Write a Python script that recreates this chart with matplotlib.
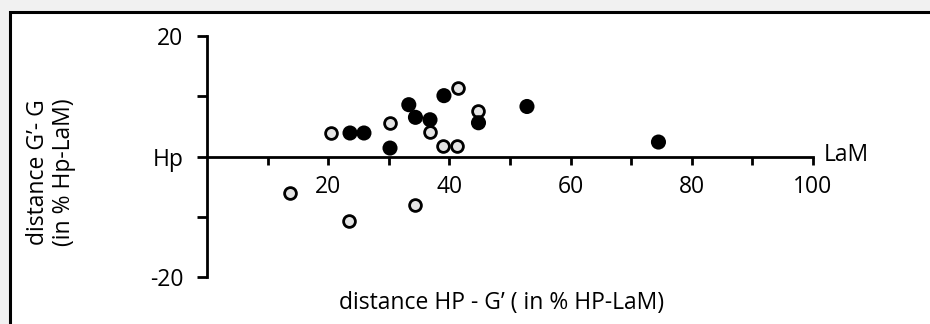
import numpy as np
import matplotlib
matplotlib.use("Agg")
import matplotlib.pyplot as plt
from matplotlib.patches import Rectangle

plt.rcParams['font.family'] = ['Open Sans', 'DejaVu Sans']

# open circles (grey fill)
open_x = [20.5, 30.2, 36.8, 39.0, 41.3, 41.5, 44.8, 13.7, 23.5, 34.4]
open_y = [3.9, 5.6, 4.0, 1.7, 1.7, 11.3, 7.5, -6.1, -10.7, -8.1]
# filled circles (black)
fill_x = [23.6, 25.9, 30.2, 33.3, 34.4, 36.8, 39.1, 44.8, 52.8, 74.5]
fill_y = [3.9, 3.9, 1.4, 8.6, 6.5, 6.1, 10.1, 5.6, 8.3, 2.4]

xticks = [10, 20, 30, 40, 50, 60, 70, 80, 90, 100]
xtick_labels = ['', '20', '', '40', '', '60', '', '80', '', '100']
yticks = [-20, -10, 0, 10, 20]
ytick_labels = ['-20', '', 'Hp', '', '20']

FS = 16.5
W, H = 930, 324
fig = plt.figure(figsize=(W / 100, H / 100), dpi=100)
fig.patch.set_facecolor('#f1f1f1')

# white framed panel (cropped on right and bottom)
fig.patches.append(Rectangle((10 / W, -0.1), 1.1, 1 - 12.5 / H + 0.1,
                             transform=fig.transFigure, facecolor='white',
                             edgecolor='black', linewidth=2.2, zorder=-5))

ax = fig.add_axes([207 / W, 1 - 277 / H, (813 - 207) / W, (277 - 36) / H])
ax.set_facecolor('none')
ax.set_xlim(0, 100)
ax.set_ylim(-20, 20)

for s in ['top', 'right']:
    ax.spines[s].set_visible(False)
ax.spines['bottom'].set_position(('data', 0))
ax.spines['bottom'].set_bounds(0, 100)
ax.spines['left'].set_linewidth(2)
ax.spines['bottom'].set_linewidth(2)

ax.set_xticks(xticks)
ax.set_xticklabels(xtick_labels)
ax.set_yticks(yticks)
ax.set_yticklabels(ytick_labels)
ax.tick_params(axis='x', direction='out', length=5.5, width=2, pad=8, labelsize=FS)
ax.tick_params(axis='y', direction='out', length=7, width=2, pad=10, labelsize=FS)

ax.scatter(open_x, open_y, s=72, facecolor='#e4e4e4', edgecolor='black',
           linewidth=2, zorder=3, clip_on=False)
ax.scatter(fill_x, fill_y, s=118, facecolor='black', edgecolor='none',
           zorder=3, clip_on=False)

ax.text(101.7, -0.7, 'LaM', fontsize=FS, ha='left', va='baseline')

fig.text(502 / W, 1 - 303 / H, 'distance HP - G\u2019 ( in % HP-LaM)',
         fontsize=FS, ha='center', va='center')
fig.text(51 / W, 1 - 172 / H, 'distance G\u2019- G\n(in % Hp-LaM)',
         fontsize=FS, ha='center', va='center', rotation=90, linespacing=1.1)

fig.savefig('out.png', dpi=100, facecolor=fig.get_facecolor())
